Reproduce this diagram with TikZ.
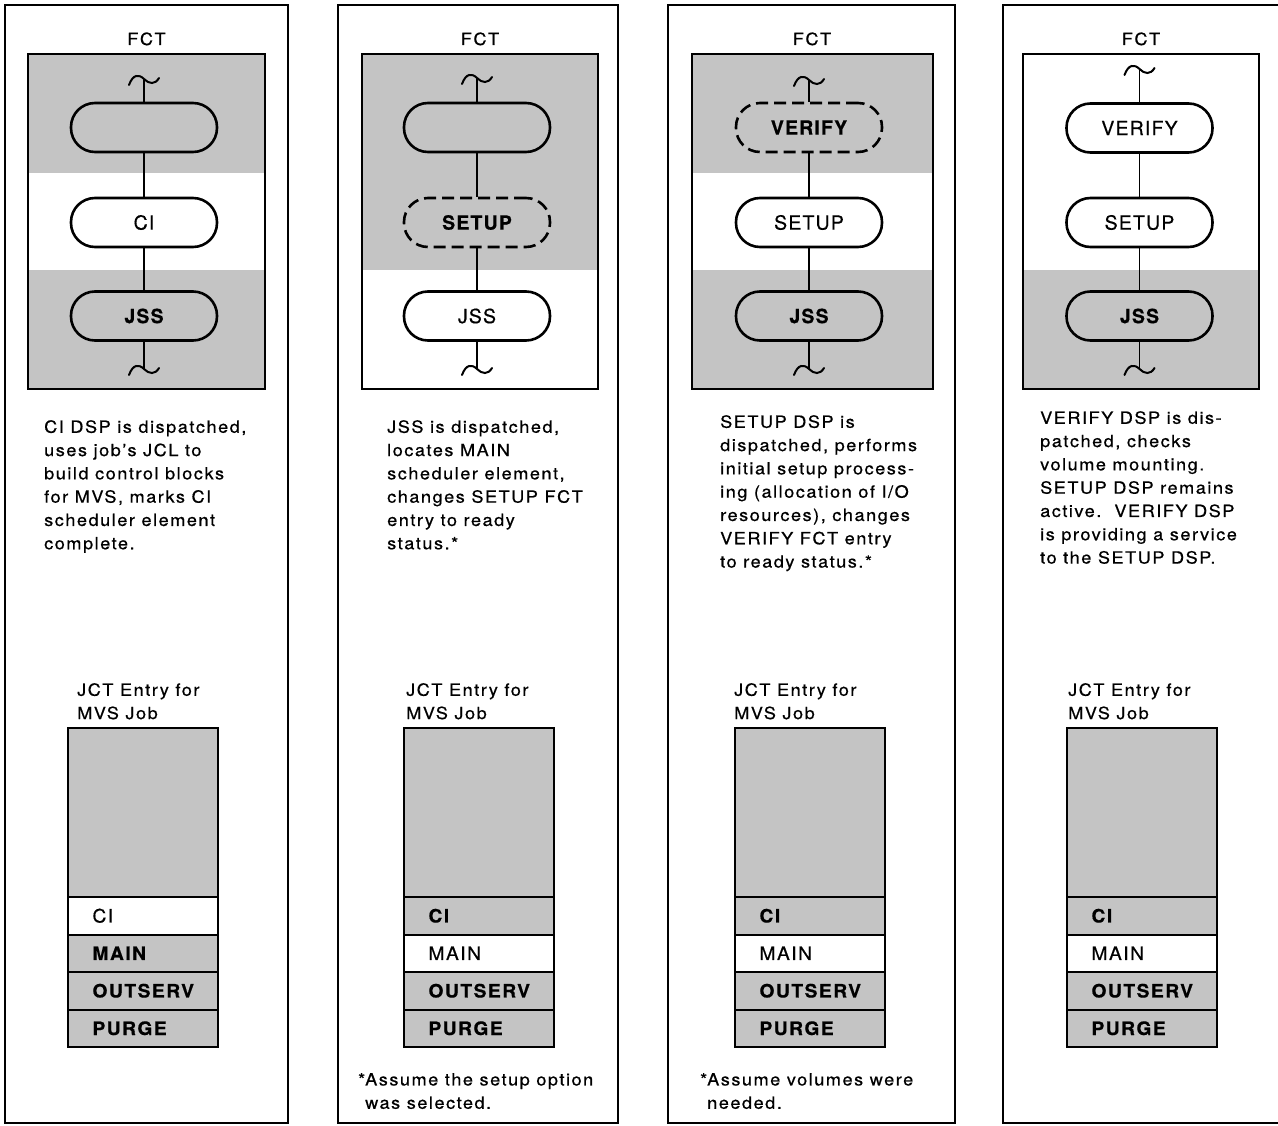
\documentclass[tikz,border=0pt]{standalone}
\usepackage{fontspec}
\setmainfont{TeX Gyre Heros}
\newfontfamily\bodyf{TeX Gyre Heros}[FakeStretch=1.08,LetterSpace=9,FakeBold=0.6]
\newfontfamily\ovf{TeX Gyre Heros}[LetterSpace=6,FakeBold=0.5]
\newfontfamily\rowf{TeX Gyre Heros}[FakeStretch=1.04,LetterSpace=8,FakeBold=0.5]
\definecolor{ht}{rgb}{0.77,0.77,0.77}
\begin{document}
\begin{tikzpicture}[x=1pt,y=-1pt,
  panel/.style={line width=1.5pt},
  fctbox/.style={line width=2.3pt},
  oval/.style={draw,line width=2.6pt,rounded corners=24pt,minimum width=146pt,minimum height=49pt,inner sep=0pt,font={\ovf\fontsize{19.5}{23}\selectfont}},
  ovw/.style={oval,fill=white},
  ovg/.style={oval,fill=ht,font={\ovf\fontsize{19.5}{23}\selectfont\bfseries}},
  dsh/.style={dash pattern=on 12pt off 6pt},
  link/.style={line width=1.4pt},
  body/.style={anchor=north west,inner sep=0pt,align=left,font={\bodyf\fontsize{16.8}{23.3}\selectfont}},
  ttl/.style={anchor=base,inner sep=0pt,font={\bodyf\fontsize{16.8}{20}\selectfont}},
  jbox/.style={draw,line width=2pt,fill=ht},
  row/.style={draw,line width=2pt,minimum width=150pt,minimum height=37.5pt,inner xsep=24.5pt,inner ysep=0pt,text width=101pt,align=left,font={\rowf\fontsize{18.5}{22}\selectfont}},
  roww/.style={row,fill=white},
  rowg/.style={row,fill=ht,font={\rowf\fontsize{18.5}{22}\selectfont\bfseries}},
  tilde/.pic={\draw[line width=2pt,line cap=round] (-15,6) .. controls (-11,-5) and (-5,-5) .. (0,0) .. controls (5,5) and (11,6) .. (15,-1);}
]
\useasboundingbox (0,0) rectangle (1278,1126);

% ---------------- Panel 1 ----------------
\draw[panel] (5,5) rectangle (288,1123);
\node[ttl] (p1fct) at (146.5,45) {FCT};
\fill[ht] (28,54) rectangle (265,173);
\fill[ht] (28,270) rectangle (265,389);
\draw[fctbox] (28,54) rectangle (265,389);
\coordinate (p1wt) at (144,79);
\coordinate (p1wb) at (144,369);
\node[ovg] (p1a) at (144,127.5) {};
\node[ovw] (p1b) at (144,222.5) {CI};
\node[ovg] (p1c) at (144,316) {JSS};
\draw[link] (p1wt) -- (p1a);
\draw[link] (p1a) -- (p1b);
\draw[link] (p1b) -- (p1c);
\draw[link] (p1c) -- (p1wb);
\pic at (p1wt) {tilde};
\pic at (p1wb) {tilde};
\node[body] (p1txt) at (44,420) {CI DSP is dispatched,\\uses job’s JCL to\\build control blocks\\for MVS, marks CI\\scheduler element\\complete.};
\node[body] (p1jt) at (77,683) {JCT Entry for\\MVS Job};
\draw[jbox] (68,728) rectangle (218,897);
\node[roww] (p1r1) at (143,915.75) {CI};
\node[rowg] (p1r2) at (143,953.25) {MAIN};
\node[rowg] (p1r3) at (143,990.75) {OUTSERV};
\node[rowg] (p1r4) at (143,1028.25) {PURGE};

% ---------------- Panel 2 ----------------
\draw[panel] (338,5) rectangle (618,1123);
\node[ttl] (p2fct) at (480,45) {FCT};
\fill[ht] (362,54) rectangle (598,270);
\draw[fctbox] (362,54) rectangle (598,389);
\coordinate (p2wt) at (477,78);
\coordinate (p2wb) at (477,369);
\node[ovg] (p2a) at (477,127.5) {};
\node[ovg,dsh] (p2b) at (477,222.5) {SETUP};
\node[ovw] (p2c) at (477,316) {JSS};
\draw[link] (p2wt) -- (p2a);
\draw[link] (p2a) -- (p2b);
\draw[link] (p2b) -- (p2c);
\draw[link] (p2c) -- (p2wb);
\pic at (p2wt) {tilde};
\pic at (p2wb) {tilde};
\node[body] (p2txt) at (387,420) {JSS is dispatched,\\locates MAIN\\scheduler element,\\changes SETUP FCT\\entry to ready\\status.*};
\node[body] (p2jt) at (406,683) {JCT Entry for\\MVS Job};
\draw[jbox] (404,728) rectangle (554,897);
\node[rowg] (p2r1) at (479,915.75) {CI};
\node[roww] (p2r2) at (479,953.25) {MAIN};
\node[rowg] (p2r3) at (479,990.75) {OUTSERV};
\node[rowg] (p2r4) at (479,1028.25) {PURGE};
\node[body] (p2fn) at (365,1073) {\llap{*}Assume the setup option\\was selected.};

% ---------------- Panel 3 ----------------
\draw[panel] (668,5) rectangle (955,1123);
\node[ttl] (p3fct) at (812,45) {FCT};
\fill[ht] (692,54) rectangle (933,173);
\fill[ht] (692,270) rectangle (933,389);
\draw[fctbox] (692,54) rectangle (933,389);
\coordinate (p3wt) at (809,80);
\coordinate (p3wb) at (809,369);
\node[ovg,dsh] (p3a) at (809,127.5) {VERIFY};
\node[ovw] (p3b) at (809,222.5) {SETUP};
\node[ovg] (p3c) at (809,316) {JSS};
\draw[link] (p3wt) -- (p3a);
\draw[link] (p3a) -- (p3b);
\draw[link] (p3b) -- (p3c);
\draw[link] (p3c) -- (p3wb);
\pic at (p3wt) {tilde};
\pic at (p3wb) {tilde};
\node[body] (p3txt) at (720,415) {SETUP DSP is\\dispatched, performs\\initial setup process-\\ing (allocation of I/O\\resources), changes\\VERIFY FCT entry\\to ready status.*};
\node[body] (p3jt) at (734,683) {JCT Entry for\\MVS Job};
\draw[jbox] (735,728) rectangle (885,897);
\node[rowg] (p3r1) at (810,915.75) {CI};
\node[roww] (p3r2) at (810,953.25) {MAIN};
\node[rowg] (p3r3) at (810,990.75) {OUTSERV};
\node[rowg] (p3r4) at (810,1028.25) {PURGE};
\node[body] (p3fn) at (707,1073) {\llap{*}Assume volumes were\\needed.};

% ---------------- Panel 4 ----------------
\draw[panel] (1278,5) -- (1003,5) -- (1003,1123) -- (1278,1123);
\node[ttl] (p4fct) at (1141,45) {FCT};
\fill[ht] (1023,270) rectangle (1259,389);
\draw[fctbox] (1023,54) rectangle (1259,389);
\coordinate (p4wt) at (1139.5,69);
\coordinate (p4wb) at (1139.5,369);
\node[ovw] (p4a) at (1139.5,128) {VERIFY};
\node[ovw] (p4b) at (1139.5,222.5) {SETUP};
\node[ovg] (p4c) at (1139.5,316) {JSS};
\draw[link] (p4wt) -- (p4a);
\draw[link] (p4a) -- (p4b);
\draw[link] (p4b) -- (p4c);
\draw[link] (p4c) -- (p4wb);
\pic at (p4wt) {tilde};
\pic at (p4wb) {tilde};
\node[body] (p4txt) at (1040,411) {VERIFY DSP is dis-\\patched, checks\\volume mounting.\\SETUP DSP remains\\active.\ \ VERIFY DSP\\is providing a service\\to the SETUP DSP.};
\node[body] (p4jt) at (1068,683) {JCT Entry for\\MVS Job};
\draw[jbox] (1067,728) rectangle (1217,897);
\node[rowg] (p4r1) at (1142,915.75) {CI};
\node[roww] (p4r2) at (1142,953.25) {MAIN};
\node[rowg] (p4r3) at (1142,990.75) {OUTSERV};
\node[rowg] (p4r4) at (1142,1028.25) {PURGE};
\end{tikzpicture}
\end{document}
